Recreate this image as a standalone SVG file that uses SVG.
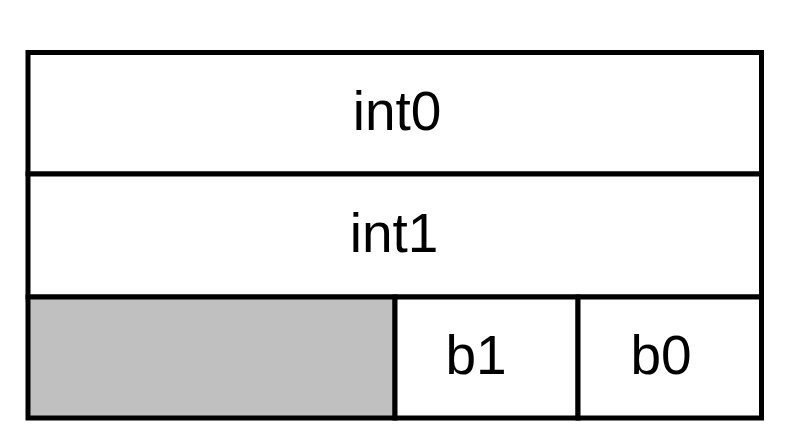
<svg xmlns="http://www.w3.org/2000/svg" width="788" height="446" viewBox="0 0 788 446">
  <style>
    .cell { fill: #ffffff; stroke: #000000; stroke-width: 5; }
    .pad { fill: #c0c0c0; stroke: #000000; stroke-width: 5; }
    .lbl { font-family: "Liberation Sans", Arial, sans-serif; font-size: 55px; fill: #000000; text-anchor: middle; }
  </style>
  <rect x="0" y="0" width="788" height="446" fill="#ffffff"/>
  <g id="int0">
    <rect class="cell" x="28" y="52.5" width="733.5" height="121.5"/>
    <text class="lbl" x="397" y="130">int0</text>
  </g>
  <g id="int1">
    <rect class="cell" x="28" y="174" width="733.5" height="123"/>
    <text class="lbl" x="394" y="252">int1</text>
  </g>
  <g id="padding">
    <rect class="pad" x="28" y="297" width="367" height="121"/>
  </g>
  <g id="b1">
    <rect class="cell" x="395" y="297" width="183" height="121"/>
    <text class="lbl" x="476" y="374">b1</text>
  </g>
  <g id="b0">
    <rect class="cell" x="578" y="297" width="183.5" height="121"/>
    <text class="lbl" x="661" y="374">b0</text>
  </g>
  <g id="connectors"/>
</svg>
